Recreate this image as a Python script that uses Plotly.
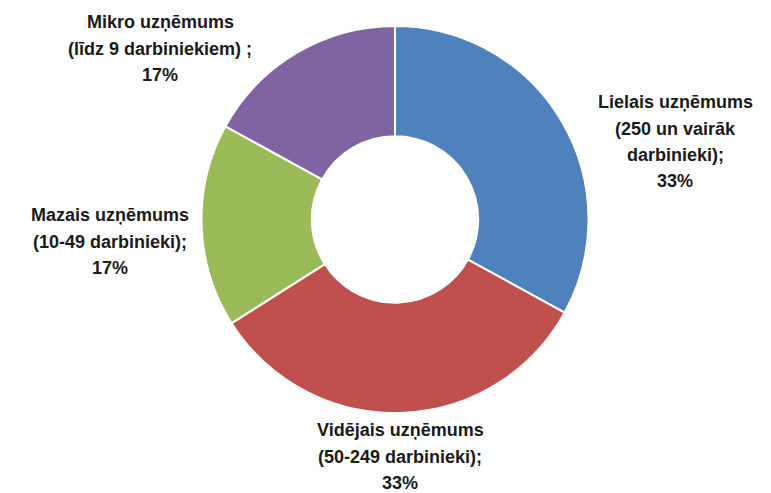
import plotly.graph_objects as go

# Data
categories = ["Lielais uzņēmums", "Vidējais uzņēmums", "Mazais uzņēmums", "Mikro uzņēmums"]
sub_labels = [["(250 un vairāk", "darbinieki);"],
              ["(50-249 darbinieki);"],
              ["(10-49 darbinieki);"],
              ["(līdz 9 darbiniekiem) ;"]]
values = [33, 33, 17, 17]
colors = ["#4F81BD", "#C0504D", "#9BBB59", "#8064A2"]

W, H = 771, 493

fig = go.Figure(go.Pie(
    labels=categories,
    values=values,
    sort=False,
    direction="clockwise",
    rotation=0,
    hole=0.43,
    marker=dict(colors=colors, line=dict(color="white", width=2)),
    textinfo="none",
    hoverinfo="label+percent",
    domain=dict(x=[201.5 / W, 588.5 / W], y=[(H - 413) / H, (H - 26) / H]),
    showlegend=False,
))

# label anchor positions (pixel centers of first line) and line spacing
label_pos = [(675, 102), (400, 430), (110, 215), (160, 22)]
line_gap = 26.5

annotations = []
for cat, subs, val, (cx, cy) in zip(categories, sub_labels, values, label_pos):
    lines = [cat] + subs + [f"{val}%"]
    for i, t in enumerate(lines):
        y = cy + i * line_gap
        annotations.append(dict(
            text=t, x=cx / W, y=1 - y / H, xref="paper", yref="paper",
            xanchor="center", yanchor="middle", showarrow=False,
            font=dict(family="Liberation Sans", size=18, color="#1a1a1a", weight="bold"),
        ))

fig.update_layout(
    width=W, height=H,
    margin=dict(l=0, r=0, t=0, b=0),
    paper_bgcolor="white",
    plot_bgcolor="white",
    annotations=annotations,
)

fig.write_html("out.html", config={"displayModeBar": False},
               post_script="document.body.style.margin='0';")
